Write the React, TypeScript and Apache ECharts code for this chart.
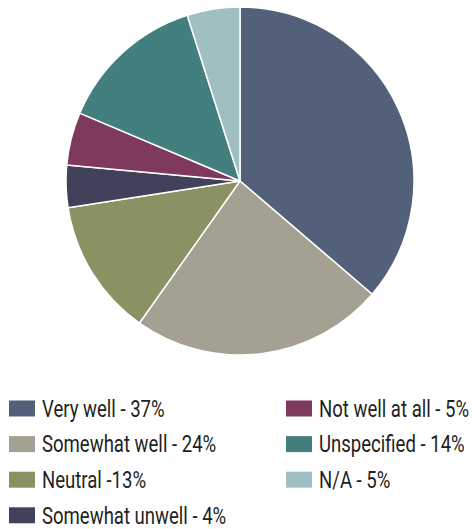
import React, { useEffect, useRef } from "react";
import * as echarts from "echarts";

const categories = [
  "Very well - 37%",
  "Somewhat well - 24%",
  "Neutral -13%",
  "Somewhat unwell - 4%",
  "Not well at all - 5%",
  "Unspecified - 14%",
  "N/A - 5%",
];
const values = [37, 24, 13, 4, 5, 14, 5];
const colors = ["#536079", "#a5a192", "#8a9163", "#41425a", "#80395e", "#447f7f", "#a0bfc3"];
// legend layout: which column / row each category sits in
const legendColumn = [0, 0, 0, 0, 1, 1, 1];
const legendRow = [0, 1, 2, 3, 0, 1, 2];

export default function App() {
  const ref = useRef<HTMLDivElement>(null);
  useEffect(() => {
    if (!ref.current) return;
    const chart = echarts.init(ref.current, undefined, { renderer: "svg" });
    const colX = [9, 286];
    const rowY0 = 408.5;
    const rowStep = 35.6;
    const legendEls: any[] = [];
    categories.forEach((name, i) => {
      const x = colX[legendColumn[i]];
      const cy = rowY0 + legendRow[i] * rowStep;
      legendEls.push({
        type: "rect",
        shape: { x, y: cy - 8, width: 26, height: 16 },
        style: { fill: colors[i] },
      });
      legendEls.push({
        type: "text",
        x: x + 33,
        y: cy,
        scaleX: 0.79,
        style: {
          text: name,
          fontFamily: "Roboto, sans-serif",
          fontSize: 23.5,
          fill: "#231f20",
          verticalAlign: "middle",
          align: "left",
        },
      });
    });
    chart.setOption({
      animation: false,
      color: colors,
      graphic: legendEls,
      series: [
        {
          type: "pie",
          center: [240, 181],
          radius: 174,
          startAngle: 90,
          clockwise: true,
          label: { show: false },
          labelLine: { show: false },
          emphasis: { disabled: true },
          itemStyle: { borderColor: "#ffffff", borderWidth: 1.5 },
          data: categories.map((name, i) => ({ name, value: values[i] })),
        },
      ],
    });
    return () => chart.dispose();
  }, []);
  return (
    <div
      ref={ref}
      style={{ position: "fixed", left: 0, top: 0, width: 474, height: 529, background: "#fff" }}
    />
  );
}
